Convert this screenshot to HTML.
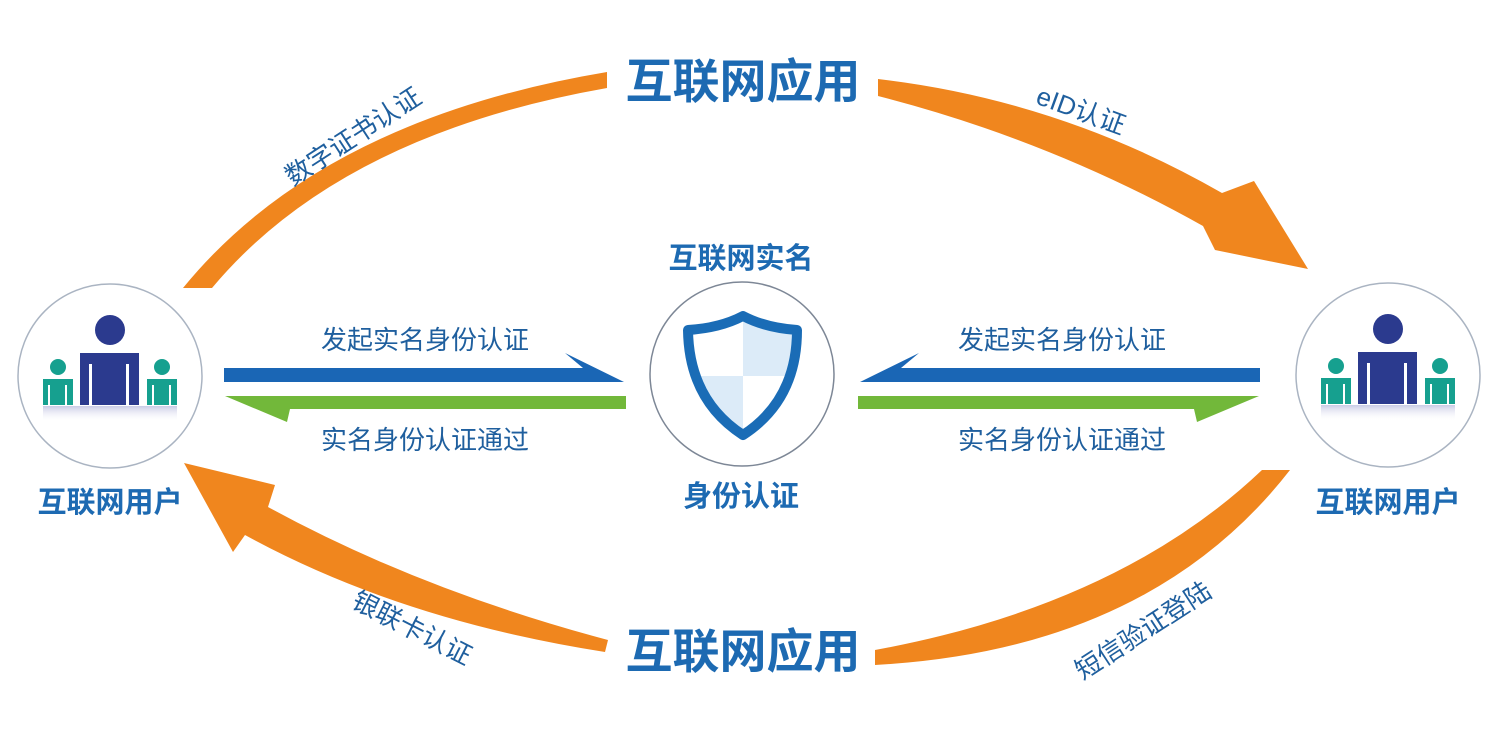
<!DOCTYPE html>
<html><head><meta charset="utf-8"><style>
html,body{margin:0;padding:0;background:#fff;}
svg{display:block;}
text{font-family:"Liberation Sans","Noto Sans CJK SC",sans-serif;}
.b{font-weight:bold;fill:#1d6ab2;}
.l{fill:#1f5f9e;font-size:26px;}
</style></head><body>
<svg width="1500" height="734" viewBox="0 0 1500 734" xmlns="http://www.w3.org/2000/svg">
<defs>
<linearGradient id="rf" x1="0" y1="0" x2="0" y2="1">
<stop offset="0" stop-color="#c9cbe6"/><stop offset="1" stop-color="#ffffff" stop-opacity="0"/>
</linearGradient>
<g id="people">
<circle cx="0" cy="-46" r="15" fill="#2b3a8e"/>
<rect x="-30" y="-23" width="59" height="52" fill="#2b3a8e"/>
<rect x="-21" y="-12" width="3" height="41" fill="#fff"/>
<rect x="16" y="-12" width="3" height="41" fill="#fff"/>
<circle cx="-52" cy="-9" r="8" fill="#16a08f"/>
<rect x="-67" y="3" width="30" height="26" fill="#16a08f"/>
<rect x="-62" y="9" width="2" height="20" fill="#fff"/>
<rect x="-45" y="9" width="2" height="20" fill="#fff"/>
<circle cx="52" cy="-9" r="8" fill="#16a08f"/>
<rect x="37" y="3" width="30" height="26" fill="#16a08f"/>
<rect x="42" y="9" width="2" height="20" fill="#fff"/>
<rect x="59" y="9" width="2" height="20" fill="#fff"/>
<rect x="-67" y="30" width="134" height="16" fill="url(#rf)"/>
</g>
</defs>

<path d="M183,288 Q320,120 607,72 L607,88 Q340,135 212,288 Z" fill="#f0861e"/>
<path d="M878,79 Q1060,100 1222,193 L1254,181 L1308,269 L1215,250 L1203,226 Q1050,140 878,96 Z" fill="#f0861e"/>
<path d="M608,640 Q420,590 268,507 L275,485 L184,463 L233,552 L245,535 Q400,620 605,652 Z" fill="#f0861e"/>
<path d="M875,650 Q1120,605 1262,470 L1290,470 Q1150,650 875,665 Z" fill="#f0861e"/>

<circle cx="110" cy="376" r="92" fill="#fff" stroke="#aab4c2" stroke-width="1.5"/>
<circle cx="1388" cy="375" r="92" fill="#fff" stroke="#aab4c2" stroke-width="1.5"/>
<circle cx="742" cy="374" r="92" fill="#fff" stroke="#7d8796" stroke-width="1.5"/>

<use href="#people" x="110" y="376"/>
<use href="#people" x="1388" y="375"/>

<path d="M743,316 Q766,328 797,330 L793,376 L743,376 Z" fill="#dcebf8"/>
<path d="M692,376 L743,376 L743,435 Q700,405 692,376 Z" fill="#dcebf8"/>
<path d="M743,316 Q766,328 797,330 Q797,400 743,435 Q689,400 688,330 Q720,328 743,316 Z" fill="none" stroke="#1a6cb6" stroke-width="10" stroke-linejoin="round"/>

<path d="M224,368 L583,368 L565,353 L624,382 L224,382 Z" fill="#1a66b5"/>
<path d="M626,396 L626,409 L290,409 L287,422 L225,396 Z" fill="#72b83a"/>
<g transform="translate(1484,0) scale(-1,1)">
<path d="M224,368 L583,368 L565,353 L624,382 L224,382 Z" fill="#1a66b5"/>
<path d="M626,396 L626,409 L290,409 L287,422 L225,396 Z" fill="#72b83a"/>
</g>

<text class="b" x="743" y="98" font-size="47" text-anchor="middle">互联网应用</text>
<text class="b" x="743" y="668" font-size="47" text-anchor="middle">互联网应用</text>
<text class="b" x="741" y="268" font-size="29" text-anchor="middle">互联网实名</text>
<text class="b" x="741" y="506" font-size="29" text-anchor="middle">身份认证</text>
<text class="b" x="110" y="512" font-size="29" text-anchor="middle">互联网用户</text>
<text class="b" x="1388" y="512" font-size="29" text-anchor="middle">互联网用户</text>

<text class="l" x="425" y="349" text-anchor="middle">发起实名身份认证</text>
<text class="l" x="425" y="449" text-anchor="middle">实名身份认证通过</text>
<text class="l" x="1062" y="349" text-anchor="middle">发起实名身份认证</text>
<text class="l" x="1062" y="449" text-anchor="middle">实名身份认证通过</text>

<text class="l" transform="translate(358,144) rotate(-33)" text-anchor="middle">数字证书认证</text>
<text class="l" transform="translate(1078,119) rotate(20)" text-anchor="middle">eID认证</text>
<text class="l" transform="translate(408,636) rotate(27)" text-anchor="middle">银联卡认证</text>
<text class="l" transform="translate(1148,638) rotate(-33)" text-anchor="middle">短信验证登陆</text>
</svg>
</body></html>
